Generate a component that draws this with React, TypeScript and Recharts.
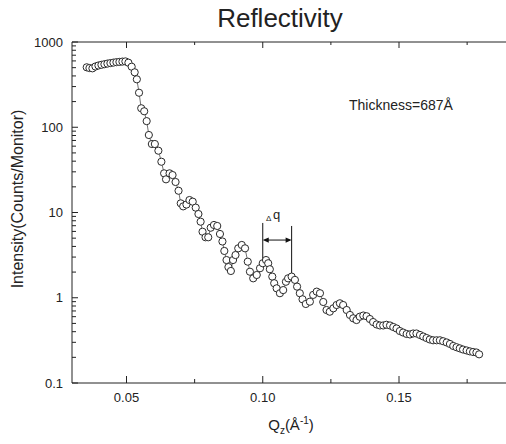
import { ScatterChart, Scatter, XAxis, YAxis, ReferenceLine } from 'recharts';

// momentum transfer (1/Å) and measured intensity (counts/monitor)
const qValues = [
  0.0354, 0.0364, 0.0375, 0.0386, 0.0397, 0.0408, 0.0419, 0.043, 0.0441, 0.0452, 0.0463, 0.0474, 0.0485, 0.0496, 0.0507,
  0.0519, 0.053, 0.0538, 0.0546, 0.0554, 0.0565, 0.0574, 0.0582, 0.0593, 0.0604, 0.0617, 0.0628, 0.0638, 0.0645, 0.0658,
  0.0669, 0.068, 0.0691, 0.0699, 0.0708, 0.072, 0.0731, 0.0743, 0.0754, 0.0764, 0.0772, 0.0779, 0.079, 0.08, 0.0809,
  0.0821, 0.0833, 0.0843, 0.0852, 0.0859, 0.0867, 0.0874, 0.0883, 0.0891, 0.09, 0.091, 0.0923, 0.0935, 0.0945, 0.0953,
  0.0965, 0.0978, 0.099, 0.1, 0.1012, 0.102, 0.1026, 0.1035, 0.1042, 0.1051, 0.1063, 0.1075, 0.1085, 0.1093, 0.1106,
  0.1118, 0.1126, 0.1136, 0.1146, 0.1158, 0.1173, 0.1185, 0.1198, 0.121, 0.1222, 0.1234, 0.1246, 0.1259, 0.1271, 0.1283,
  0.1295, 0.1308, 0.132, 0.1332, 0.1344, 0.1356, 0.1369, 0.1381, 0.1393, 0.1405, 0.1418, 0.143, 0.1442, 0.1454, 0.1467,
  0.1479, 0.1491, 0.1503, 0.1515, 0.1528, 0.154, 0.1552, 0.1564, 0.1577, 0.1589, 0.1601, 0.1613, 0.1625, 0.1638, 0.165,
  0.1662, 0.1675, 0.1687, 0.1699, 0.1711, 0.1723, 0.1735, 0.1748, 0.176, 0.1772, 0.1784, 0.1794,
];

const intensity = [
  505, 495, 491, 516, 530, 540, 549, 558, 566, 573, 580, 584, 589, 592, 572,
  513, 441, 365, 254, 167, 154, 118, 81.1, 63.6, 63.6, 53.1, 39.4, 28.8, 24.5, 28.8,
  27.5, 22.8, 18.0, 12.8, 11.8, 12.4, 14.0, 13.4, 11.4, 9.6, 7.8, 5.95, 5.12, 5.12, 6.63,
  7.14, 6.95, 5.6, 4.57, 3.54, 2.77, 2.29, 2.06, 2.77, 3.17, 3.8, 4.16, 3.8, 2.65, 2.02,
  1.69, 1.85, 2.22, 2.54, 2.77, 2.54, 2.16, 1.77, 1.48, 1.29, 1.13, 1.23, 1.54, 1.69, 1.77,
  1.62, 1.35, 1.13, 0.959, 0.845, 0.899, 1.08, 1.18, 1.13, 0.892, 0.718, 0.686, 0.752, 0.822, 0.861,
  0.822, 0.718, 0.628, 0.574, 0.548, 0.599, 0.619, 0.607, 0.563, 0.519, 0.486, 0.473, 0.473, 0.482, 0.473,
  0.454, 0.436, 0.407, 0.391, 0.376, 0.371, 0.381, 0.381, 0.366, 0.351, 0.337, 0.324, 0.317, 0.317, 0.317,
  0.309, 0.299, 0.287, 0.272, 0.263, 0.255, 0.247, 0.241, 0.235, 0.231, 0.228, 0.217,
];

const xTicks = [0.05, 0.075, 0.1, 0.125, 0.15, 0.175];
const xTickLabels: Record<string, string> = { '0.05': '0.05', '0.1': '0.10', '0.15': '0.15' };

const yTicks = [
  0.1, 0.2, 0.3, 0.4, 0.5, 0.6, 0.7, 0.8, 0.9,
  1, 2, 3, 4, 5, 6, 7, 8, 9,
  10, 20, 30, 40, 50, 60, 70, 80, 90,
  100, 200, 300, 400, 500, 600, 700, 800, 900,
  1000,
];
const yTickLabels: Record<string, string> = { '0.1': '0.1', '1': '1', '10': '10', '100': '100', '1000': '1000' };

// fringe spacing marker: two peak positions, the arrow level and line ends
const deltaQ = { from: 0.1, to: 0.1106, arrowAt: 4.75 };
const deltaQLines = [
  { q: 0.1, top: 7.54, bottom: 2.62 },
  { q: 0.1106, top: 6.95, bottom: 1.75 },
];

const points = qValues.map((q, i) => ({ q, I: intensity[i] }));

const FONT = '"Liberation Sans", Arial, Helvetica, sans-serif';
const INK = '#222';
const TOP_AXIS_H = 42;

// bottom ticks point up into the plot; the matching top-frame tick is drawn here too
function BottomTick({ x, y, payload }: any) {
  const label = xTickLabels[String(payload.value)];
  const len = label ? 7 : 4;
  return (
    <g>
      <line x1={x} x2={x} y1={y} y2={y - len} stroke={INK} strokeWidth={1} />
      <line x1={x} x2={x} y1={TOP_AXIS_H} y2={TOP_AXIS_H + len - 1} stroke={INK} strokeWidth={1} />
      {label && (
        <text x={x} y={y + 19} textAnchor="middle" fontSize={13} fontFamily={FONT} fill={INK}>
          {label}
        </text>
      )}
    </g>
  );
}

function LeftTick({ x, y, payload }: any) {
  const label = yTickLabels[String(payload.value)];
  return (
    <g>
      <line x1={x} x2={x + (label ? 6 : 4)} y1={y} y2={y} stroke={INK} strokeWidth={1} />
      {label && (
        <text x={x - 9} y={y} dy="0.35em" textAnchor="end" fontSize={13} fontFamily={FONT} fill={INK}>
          {label}
        </text>
      )}
    </g>
  );
}

function OpenCircle({ cx, cy }: any) {
  return <circle cx={cx} cy={cy} r={3.6} fill="#fff" stroke="#2a2a2a" strokeWidth={1} />;
}

function DoubleArrow({ x1, y1, x2, y2 }: any) {
  const h = 6;
  const w = 2.6;
  return (
    <g>
      <line x1={x1 + 2} y1={y1} x2={x2 - 2} y2={y2} stroke="#111" strokeWidth={1} />
      <path d={`M${x1},${y1} L${x1 + h},${y1 - w} L${x1 + h},${y1 + w} Z`} fill="#111" />
      <path d={`M${x2},${y2} L${x2 - h},${y2 - w} L${x2 - h},${y2 + w} Z`} fill="#111" />
    </g>
  );
}

export default function App() {
  return (
    <div style={{ position: 'absolute', left: 0, top: 0, width: 506, height: 444, overflow: 'hidden', background: '#fff' }}>
      <ScatterChart width={520} height={444} margin={{ top: 0, right: 12, bottom: 0, left: 0 }}>
        <XAxis
          xAxisId="bottom"
          dataKey="q"
          type="number"
          domain={[0.03, 0.19]}
          ticks={xTicks}
          interval={0}
          height={61}
          tickSize={0}
          tickMargin={0}
          tickLine={false}
          tick={<BottomTick />}
          axisLine={{ stroke: INK, strokeWidth: 1 }}
          allowDataOverflow
        />
        <XAxis
          xAxisId="top"
          orientation="top"
          type="number"
          domain={[0.03, 0.19]}
          height={TOP_AXIS_H}
          tick={false}
          tickLine={false}
          axisLine={{ stroke: INK, strokeWidth: 1 }}
          allowDataOverflow
        />
        <YAxis
          dataKey="I"
          type="number"
          scale="log"
          domain={[0.1, 1000]}
          ticks={yTicks}
          interval={0}
          width={72}
          tickSize={0}
          tickMargin={0}
          tickLine={false}
          tick={<LeftTick />}
          axisLine={{ stroke: INK, strokeWidth: 1 }}
          allowDataOverflow
        />
        <Scatter
          xAxisId="bottom"
          data={points}
          line={{ stroke: '#333', strokeWidth: 0.7 }}
          lineType="joint"
          shape={<OpenCircle />}
          isAnimationActive={false}
        />
        {deltaQLines.map((l) => (
          <ReferenceLine
            key={l.q}
            xAxisId="bottom"
            segment={[{ x: l.q, y: l.top }, { x: l.q, y: l.bottom }]}
            stroke="#111"
            strokeWidth={1}
            ifOverflow="visible"
          />
        ))}
        <ReferenceLine
          xAxisId="bottom"
          segment={[{ x: deltaQ.from, y: deltaQ.arrowAt }, { x: deltaQ.to, y: deltaQ.arrowAt }]}
          shape={<DoubleArrow />}
          ifOverflow="visible"
        />
      </ScatterChart>
      <svg
        width={506}
        height={444}
        style={{ position: 'absolute', left: 0, top: 0, pointerEvents: 'none' }}
        fontFamily={FONT}
        fill={INK}
      >
        <text x={280} y={27} textAnchor="middle" fontSize={26}>Reflectivity</text>
        <text x={349} y={110} fontSize={14}>Thickness=687Å</text>
        <text x={266} y={221} fontSize={8}>Δ</text>
        <text x={273} y={219} fontSize={13}>q</text>
        <text transform="rotate(-90)" x={-199} y={23} textAnchor="middle" fontSize={16}>
          Intensity(Counts/Monitor)
        </text>
        <text x={291} y={430} textAnchor="middle" fontSize={15}>
          Q<tspan fontSize={10} dy={4}>z</tspan>
          <tspan dy={-4}>(Å</tspan>
          <tspan fontSize={10} dy={-6}>-1</tspan>
          <tspan dy={6}>)</tspan>
        </text>
      </svg>
    </div>
  );
}
